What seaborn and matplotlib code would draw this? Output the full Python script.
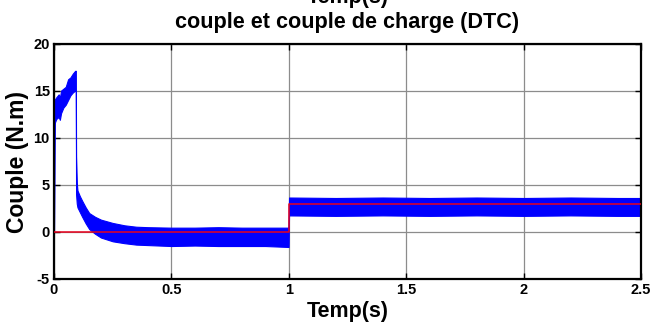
import numpy as np
import pandas as pd
import matplotlib
matplotlib.use("Agg")
import matplotlib.pyplot as plt
import seaborn as sns

# ==================================================
# DATA
# ==================================================

# electromagnetic torque ripple band : time, upper and lower envelope
t_env = [0.0, 0.002, 0.01, 0.02, 0.025, 0.03, 0.04, 0.05, 0.06, 0.07, 0.08,
         0.09, 0.093, 0.094, 0.097, 0.1, 0.11, 0.12, 0.135, 0.15, 0.175,
         0.2, 0.25, 0.3, 0.35, 0.4, 0.5, 0.6, 0.7, 0.8, 0.9, 0.999,
         1.001, 1.2, 1.4, 1.6, 1.8, 2.0, 2.2, 2.4, 2.5]
te_upper = [0.0, 14.0, 14.3, 14.6, 14.2, 15.0, 15.2, 15.4, 16.2, 16.4, 16.8,
            17.1, 17.1, 8.0, 5.2, 4.4, 3.8, 3.3, 2.6, 2.0, 1.6,
            1.3, 0.95, 0.7, 0.55, 0.5, 0.45, 0.45, 0.5, 0.45, 0.45, 0.45,
            3.65, 3.6, 3.65, 3.6, 3.65, 3.6, 3.65, 3.6, 3.6]
te_lower = [0.0, 11.5, 12.0, 12.2, 11.9, 12.6, 13.2, 13.5, 14.0, 14.5, 14.8,
            15.0, 15.0, 4.0, 3.0, 2.6, 2.1, 1.6, 0.9, 0.3, -0.2,
            -0.6, -1.0, -1.2, -1.35, -1.4, -1.5, -1.45, -1.5, -1.5, -1.5, -1.6,
            1.75, 1.7, 1.75, 1.7, 1.75, 1.7, 1.75, 1.7, 1.7]

# load torque (couple de charge)
t_load = [0.0, 1.0, 1.0, 2.5]
tl_values = [0.0, 0.0, 3.0, 3.0]

x_ticks = [0, 0.5, 1, 1.5, 2, 2.5]
x_ticklabels = ["0", "0.5", "1", "1.5", "2", "2.5"]
y_ticks = [-5, 0, 5, 10, 15, 20]
y_ticklabels = ["-5", "0", "5", "10", "15", "20"]

# ==================================================
# STYLE
# ==================================================

sns.set_style("ticks")
plt.rcParams["font.family"] = ["Liberation Sans", "DejaVu Sans"]
plt.rcParams["font.weight"] = "bold"
plt.rcParams["text.color"] = "black"
plt.rcParams["xtick.color"] = "black"
plt.rcParams["ytick.color"] = "black"

fig = plt.figure(figsize=(6.52, 3.25), dpi=100)
ax = fig.add_axes([54 / 652, 46 / 325, 587 / 652, 235.5 / 325])

# ==================================================
# PLOT
# ==================================================

env = pd.DataFrame({"t": t_env, "up": te_upper, "low": te_lower})
ax.fill_between(env["t"], env["low"], env["up"], color="#0000ff",
                linewidth=0.8, edgecolor="#0000ff", zorder=2)

load = pd.DataFrame({"t": t_load, "Tl": tl_values})
sns.lineplot(data=load, x="t", y="Tl", color="#e8001c", linewidth=1.1,
             sort=False, estimator=None, ax=ax, zorder=3)

ax.set_xlim(0, 2.5)
ax.set_ylim(-5, 20)
ax.set_xticks(x_ticks)
ax.set_xticklabels(x_ticklabels)
ax.set_yticks(y_ticks)
ax.set_yticklabels(y_ticklabels)
ax.tick_params(direction="in", length=4, width=1, top=True, right=True,
               labelsize=10.5, pad=3, colors="black")
for lab in ax.get_xticklabels() + ax.get_yticklabels():
    lab.set_fontweight("bold")

ax.grid(True, color="#8c8c8c", linewidth=0.9, zorder=0)
ax.set_axisbelow(True)
for sp in ax.spines.values():
    sp.set_linewidth(1.6)
    sp.set_color("black")

ax.set_xlabel("")
ax.set_ylabel("")

# titles and labels (placed like the MATLAB figure)
fig.text(347.5 / 652, 1 - 3 / 325, "Temp(s)", ha="center", va="baseline",
         fontsize=15.5, fontweight="bold", color="black")
fig.text(347.5 / 652, 1 - 28 / 325, "couple et couple de charge (DTC)",
         ha="center", va="baseline", fontsize=15.6, fontweight="bold",
         color="black")
fig.text(347.5 / 652, 1 - 317 / 325, "Temp(s)", ha="center", va="baseline",
         fontsize=15.5, fontweight="bold", color="black")
fig.text(18 / 652, 1 - 162 / 325, "Couple (N.m)", ha="center", va="center",
         rotation=90, fontsize=16.5, fontweight="bold", color="black")

plt.savefig("out.png", dpi=100)
